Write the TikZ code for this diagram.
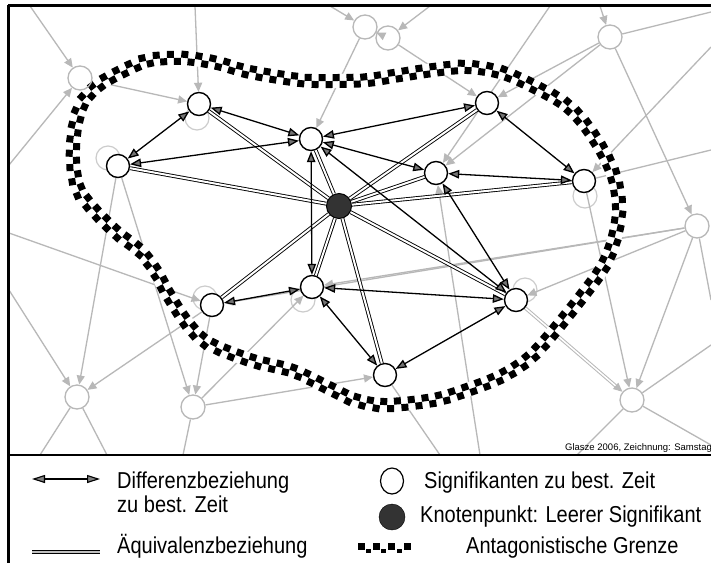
\documentclass[tikz,border=0pt]{standalone}
\usepackage{fontspec}
\setmainfont{Liberation Sans}
\newfontfamily\legfont[FakeStretch=0.87]{Liberation Sans}
\usetikzlibrary{arrows.meta,decorations.markings,shapes.geometric}
\pgfdeclarelayer{bg}
\pgfsetlayers{bg,main}
\begin{document}
\begin{tikzpicture}[x=1pt,y=-1pt,
  sig/.style={circle,draw=black,line width=1.4pt,fill=white,minimum size=23pt,inner sep=0pt},
  hubnode/.style={circle,draw=black,line width=1pt,fill=black!80,minimum size=25pt,inner sep=0pt},
  gnode/.style={circle,draw=black!28,line width=1.3pt,minimum size=24pt,inner sep=0pt},
  ghost/.style={circle,draw=black!20,line width=1.2pt,minimum size=24pt,inner sep=0pt},
  gedge/.style={draw=black!28,line width=1.3pt,-{Triangle[length=9pt,width=8pt]}},
  gline/.style={draw=black!28,line width=1.3pt},
  diff/.style={line width=1.3pt,{Triangle[length=11pt,width=8.5pt,fill=black!55]}-{Triangle[length=11pt,width=8.5pt,fill=black!55]}},
  equ/.style={draw=black,double=white,double distance=2pt,line width=0.9pt},
  legtext/.style={anchor=base west,font=\legfont\fontsize{23}{25}\selectfont,inner sep=0pt}
]
\useasboundingbox (0,0) rectangle (711,563);

% black nodes
\node[sig] (A) at (199,104) {};
\node[sig] (B) at (118,166) {};
\node[sig] (C) at (311,139) {};
\node[sig] (D) at (487,103) {};
\node[sig] (E) at (436,173) {};
\node[sig] (F) at (584,181) {};
\node[sig] (G) at (212,305) {};
\node[sig] (H) at (312,287) {};
\node[sig] (I) at (516,300) {};
\node[sig] (J) at (385,375) {};
\node[hubnode] (K) at (339,206) {};

% gray background nodes
\node[gnode] (g1) at (80,78) {};
\node[gnode] (g2) at (365,27) {};
\node[gnode] (g3) at (388,38) {};
\node[gnode] (g4) at (610,37) {};
\node[gnode] (g5) at (697,226) {};
\node[gnode] (g6) at (632,400) {};
\node[gnode] (g7) at (77,397) {};
\node[gnode] (g8) at (193,407) {};

% free ends
\coordinate (e1) at (30,6);
\coordinate (e2) at (9,165);
\coordinate (e3) at (195,6);
\coordinate (e4) at (330,6);
\coordinate (e5) at (430,6);
\coordinate (e6) at (550,6);
\coordinate (e7) at (600,6);
\coordinate (e8) at (711,12);
\coordinate (e9) at (711,47);
\coordinate (e10) at (711,150);
\coordinate (e11) at (711,300);
\coordinate (e12) at (711,345);
\coordinate (e13) at (711,445);
\coordinate (e14) at (577,455);
\coordinate (e15) at (480,455);
\coordinate (e16) at (440,455);
\coordinate (e17) at (183,455);
\coordinate (e18) at (107,455);
\coordinate (e19) at (40,455);
\coordinate (e20) at (9,290);
\coordinate (e21) at (9,233);

\begin{pgfonlayer}{bg}
\fill[white] (0,0) rectangle (711,563);
% ghosts
\node[ghost] (A2) at (197,118) {};
\node[ghost] (B2) at (108,158) {};
\node[ghost] (G2) at (205,298) {};
\node[ghost] (H2) at (303,300) {};
\node[ghost] (F2) at (585,196) {};
\node[ghost] (I2) at (525,290) {};
% gray network
\draw[gedge] (e1) -- (g1);
\draw[gedge] (e2) -- (g1);
\draw[gedge] (g1) -- (A);
\draw[gedge] (e3) -- (A);
\draw[gedge] (g2) -- (C);
\draw[gedge] (e4) -- (g2);
\draw[gedge] (g3) -- (g2);
\draw[gedge] (e5) -- (g3);
\draw[gedge] (g3) -- (D);
\draw[gedge] (e6) -- (E);
\draw[gedge] (g4) -- (D);
\draw[gedge] (g4) -- (E);
\draw[gedge] (e7) -- (g4);
\draw[gline] (g4) -- (e8);
\draw[gedge] (g4) -- (g5);
\draw[gedge] (e9) -- (F);
\draw[gline] (F) -- (e10);
\draw[gedge] (g5) -- (H);
\draw[gedge] (g5) -- (G);
\draw[gedge] (g5) -- (I);
\draw[gline] (g5) -- (e11);
\draw[gedge] (g5) -- (g6);
\draw[gedge] (F) -- (g6);
\draw[gedge,double=white,double distance=1.5pt,line width=1pt] (I) -- (g6);
\draw[gline] (g6) -- (e12);
\draw[gline] (g6) -- (e13);
\draw[gline] (g6) -- (e14);
\draw[gedge] (e15) -- (E);
\draw[gline] (J) -- (e16);
\draw[gedge] (e20) -- (g7);
\draw[gedge] (B) -- (g7);
\draw[gline] (g7) -- (e19);
\draw[gline] (g7) -- (e18);
\draw[gedge] (G) -- (g7);
\draw[gedge] (e21) -- (G);
\draw[gedge] (B) -- (g8);
\draw[gedge] (g8) -- (H);
\draw[gedge] (G) -- (g8);
\draw[gedge] (g8) -- (J);
\draw[gline] (g8) -- (e17);

% antagonistic border
\draw[white,line width=14pt] plot[smooth cycle,tension=0.55] coordinates {
 (73,160) (78,188) (93,209) (116,232) (140,251) (156,272) (168,294) (187,323) (208,343)
 (250,360) (293,371) (333,390) (355,400) (385,405) (433,400) (467,390) (500,377)
 (527,360) (550,336) (583,295) (603,267) (614,240) (619,210) (615,180) (603,152)
 (583,122) (562,102) (527,83) (500,72) (467,67) (433,70) (400,75) (367,80) (330,81)
 (300,80) (250,72) (217,63) (183,58) (150,60) (125,70) (100,84) (83,102) (75,128)};
\path[postaction={decorate,decoration={markings,
   mark=between positions 0 and 0.995 step 14pt with {%
     \fill[black] (-3.5pt,0pt) rectangle (3.5pt,7pt);
     \fill[black] (3.5pt,-7pt) rectangle (10.5pt,0pt);}}}]
 plot[smooth cycle,tension=0.55] coordinates {
 (73,160) (78,188) (93,209) (116,232) (140,251) (156,272) (168,294) (187,323) (208,343)
 (250,360) (293,371) (333,390) (355,400) (385,405) (433,400) (467,390) (500,377)
 (527,360) (550,336) (583,295) (603,267) (614,240) (619,210) (615,180) (603,152)
 (583,122) (562,102) (527,83) (500,72) (467,67) (433,70) (400,75) (367,80) (330,81)
 (300,80) (250,72) (217,63) (183,58) (150,60) (125,70) (100,84) (83,102) (75,128)};
\end{pgfonlayer}

% equivalence (hub)
\foreach \n in {A,B,C,D,E,F,G,H,I,J} {\draw[equ] (K) -- (\n);}

% difference relations
\draw[diff] (A) -- (B);
\draw[diff] (A) -- (C);
\draw[diff] (B) -- (C);
\draw[diff] (C) -- (D);
\draw[diff] (C) -- (E);
\draw[diff] (C) -- (H);
\draw[diff] (C) -- (I);
\draw[diff] (E) -- (F);
\draw[diff] (E) -- (I);
\draw[diff] (D) -- (F);
\draw[diff] (G) -- (H);
\draw[diff] (H) -- (I);
\draw[diff] (H) -- (J);
\draw[diff] (I) -- (J);

% frame
\draw[line width=3pt] (8,5) -- (711,5);
\draw[line width=3pt] (8,5) -- (8,563);
\draw[line width=2.5pt] (8,455) -- (711,455);

\node[anchor=base west,font=\fontsize{9.5}{10}\selectfont,inner sep=0pt] (cr) at (565,450) {Glasze 2006, Zeichnung: Samstag};

% legend
\coordinate (la1) at (32,479);
\coordinate (la2) at (100,479);
\draw[line width=1.1pt,{Triangle[length=13pt,width=8pt,fill=black!50]}-{Triangle[length=13pt,width=8pt,fill=black!50]}] (la1) -- (la2);
\node[legtext] (t1) at (117,488) {Differenzbeziehung};
\node[legtext] (t2) at (117,512) {zu best. Zeit};
\coordinate (ld1) at (32,552);
\coordinate (ld2) at (100,552);
\draw[equ,double=black!25] (ld1) -- (ld2);
\node[legtext] (t3) at (117,553) {Äquivalenzbeziehung};

\node[draw=black,line width=1.2pt,ellipse,minimum width=23pt,minimum height=26pt,inner sep=0pt] (lc1) at (392,481) {};
\node[legtext] (t4) at (424,488) {Signifikanten zu best. Zeit};
\node[circle,fill=black!80,draw=black,minimum size=26pt,inner sep=0pt] (lc2) at (392,517) {};
\node[legtext] (t5) at (420,522) {Knotenpunkt: Leerer Signifikant};
\foreach \xx in {358,373,388,404} {\fill[black] (\xx,543) rectangle ++(7,7);}
\foreach \xx in {366,381,397} {\fill[black] (\xx,549) rectangle ++(5,4);}
\node[legtext] (t6) at (466,553) {Antagonistische Grenze};
\end{tikzpicture}
\end{document}
